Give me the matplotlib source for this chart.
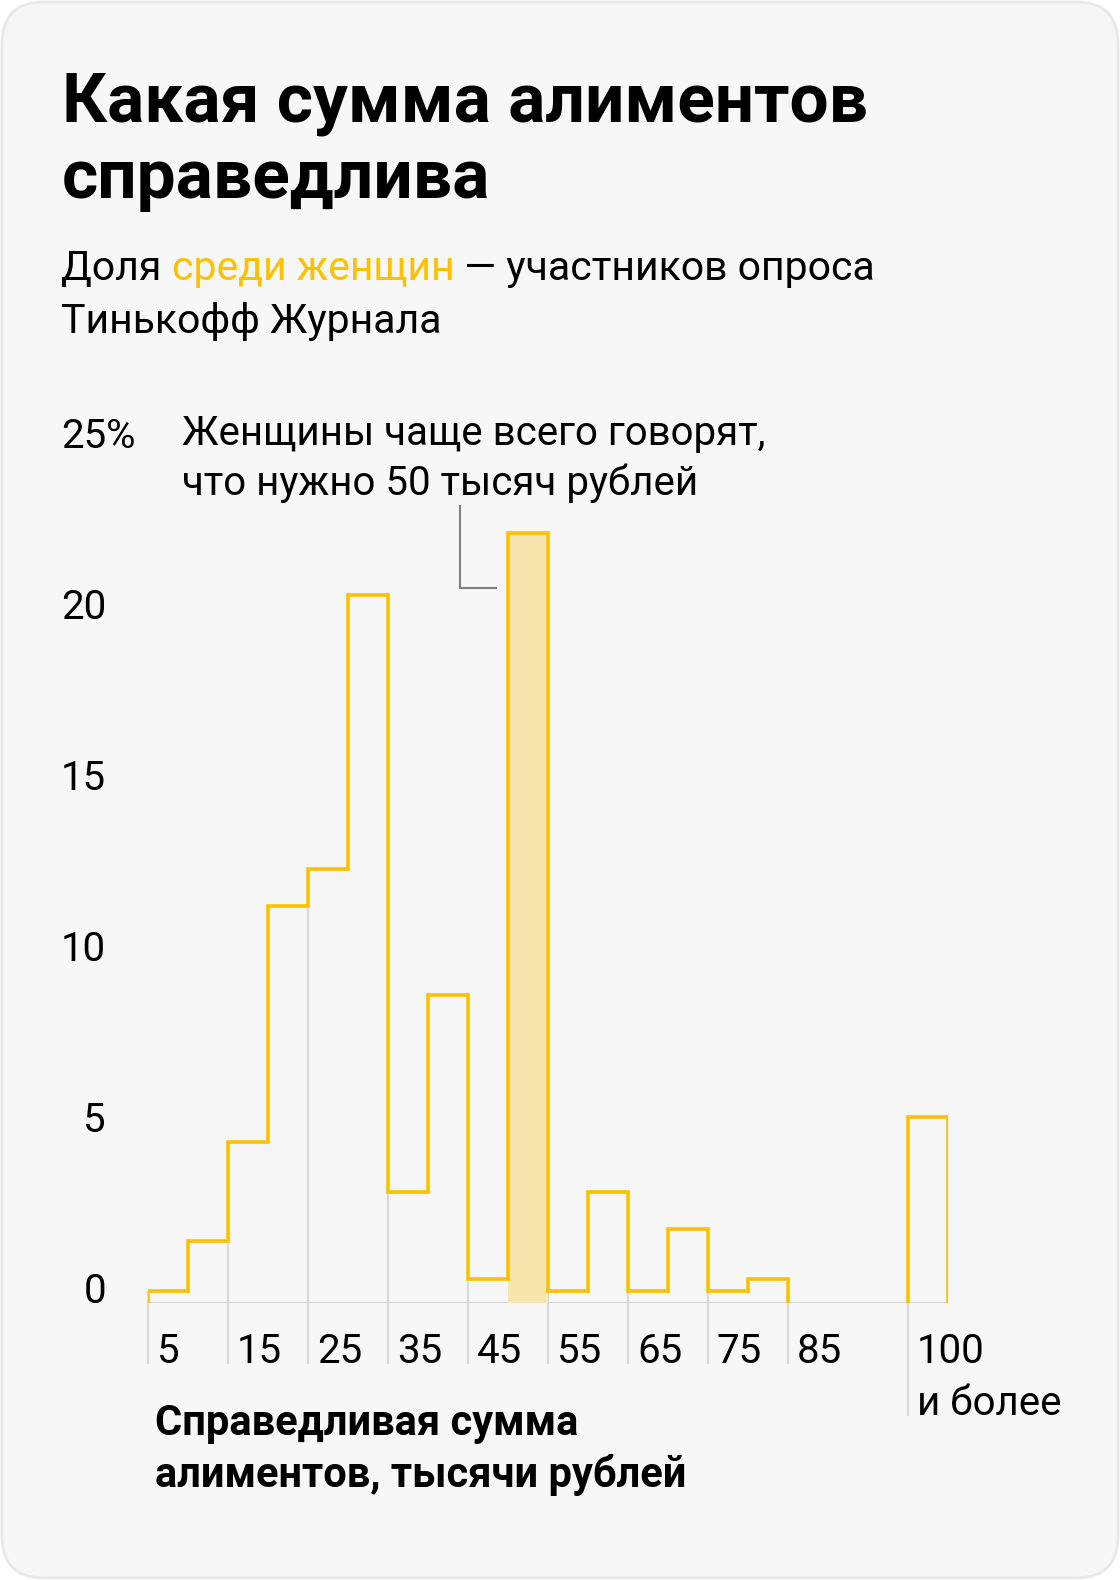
import matplotlib.pyplot as plt
from matplotlib.patches import FancyBboxPatch
from matplotlib.transforms import offset_copy, blended_transform_factory

# Доля женщин (%) по справедливой сумме алиментов, шаг 5 тысяч рублей
bin_left = [5, 10, 15, 20, 25, 30, 35, 40, 45, 50, 55, 60, 65, 70, 75, 80]
shares = [0.35, 1.8, 4.7, 11.6, 12.7, 20.7, 3.25, 9.0, 0.7, 22.5,
          0.35, 3.25, 0.35, 2.15, 0.35, 0.7]
last_left = 100          # 100 и более
last_share = 5.45
bin_width = 5
peak_left = 50           # выделенный столбец

x_ticks = [5, 15, 25, 35, 45, 55, 65, 75, 85, 100]
x_tick_labels = ['5', '15', '25', '35', '45', '55', '65', '75', '85', '100\nи более']
y_ticks = [0, 5, 10, 15, 20, 25]
y_tick_labels = ['0', '5', '10', '15', '20', '25']

YELLOW = '#ffc000'
FILL = '#f9e6ae'
GRID = '#dadada'

plt.rcParams['font.family'] = ['Roboto', 'DejaVu Sans']

W, H = 1120, 1580
fig = plt.figure(figsize=(W / 100, H / 100), dpi=100)
fig.patch.set_facecolor('white')

# фон-карточка, координаты в пикселях
bg = fig.add_axes([0, 0, 1, 1])
bg.set_xlim(0, W)
bg.set_ylim(H, 0)
bg.axis('off')
bg.add_patch(FancyBboxPatch((2, 2), W - 4, H - 4,
                            boxstyle='round,pad=0,rounding_size=42',
                            fc='#f7f7f7', ec='#e8e8e8', lw=2))

# заголовок
bg.text(62, 122, 'Какая сумма алиментов', fontsize=50, weight='bold', va='baseline')
bg.text(62, 198, 'справедлива', fontsize=50, weight='bold', va='baseline')

# подзаголовок с выделением цветом
renderer = fig.canvas.get_renderer()
x = 61
for part, col in [('Доля ', 'black'), ('среди женщин', YELLOW), (' — участников опроса', 'black')]:
    t = bg.text(x, 280, part, fontsize=29.5, color=col, va='baseline')
    x = t.get_window_extent(renderer).x1
bg.text(61, 333, 'Тинькофф Журнала', fontsize=29.5, va='baseline')

# график
ax = fig.add_axes([148 / W, 277 / H, 800 / W, 855 / H])
ax.set_xlim(5, 105)
ax.set_ylim(0, 25)
ax.axis('off')
px_per_unit = 855 / 25

edges = bin_left + [bin_left[-1] + bin_width]
heights = dict(zip(bin_left, shares))
heights[last_left] = last_share

# вертикальные линии делений и подписи оси X
for t, lab in zip(x_ticks, x_tick_labels):
    top = max(heights.get(t - bin_width, 0), heights.get(t, 0))
    n_lines = lab.count('\n') + 1
    drop = (61 + 52 * (n_lines - 1)) / px_per_unit
    ax.vlines(t, -drop, top, color=GRID, lw=1.5, zorder=0, clip_on=False)
    for i, line in enumerate(lab.split('\n')):
        tr = offset_copy(ax.transData, fig=fig, x=9, y=-60 - 52 * i, units='dots')
        ax.text(t, 0, line, transform=tr, fontsize=29, ha='left', va='baseline', clip_on=False)

ax.hlines(0, edges[0], last_left + bin_width, color='#d6d6d6', lw=1.5, zorder=0)

# выделенный столбец
ax.bar(peak_left, heights[peak_left], width=bin_width, align='edge', color=FILL, zorder=1)

ax.stairs(shares, edges, baseline=0, fill=False, color=YELLOW, lw=2.6,
          joinstyle='miter', zorder=3)
ax.stairs([last_share], [last_left, last_left + bin_width], baseline=0, fill=False,
          color=YELLOW, lw=2.6, joinstyle='miter', zorder=3)

# подписи оси Y (выровнены по правому краю, у верхней — знак %)
ytr = blended_transform_factory(fig.transFigure, ax.transData)
for v, lab in zip(y_ticks, y_tick_labels):
    ax.text(106 / W, v, lab, transform=ytr, fontsize=29, ha='right', va='baseline', clip_on=False)
ax.text(106 / W, y_ticks[-1], '%', transform=ytr, fontsize=29, ha='left', va='baseline', clip_on=False)

# аннотация
bg.text(182, 445, 'Женщины чаще всего говорят,', fontsize=29, va='baseline')
bg.text(182, 495, 'что нужно 50 тысяч рублей', fontsize=29, va='baseline')
peak_val = heights[peak_left]
ax.plot([peak_left - 6, peak_left - 6, peak_left - 1.5],
        [peak_val + 0.8, peak_val - 1.6, peak_val - 1.6],
        color='#808080', lw=1.5, zorder=2, clip_on=False)

# подпись оси X
bg.text(155, 1435, 'Справедливая сумма', fontsize=30, weight='bold', va='baseline')
bg.text(155, 1487, 'алиментов, тысячи рублей', fontsize=30, weight='bold', va='baseline')

fig.savefig('out.png', dpi=100, facecolor=fig.get_facecolor())
